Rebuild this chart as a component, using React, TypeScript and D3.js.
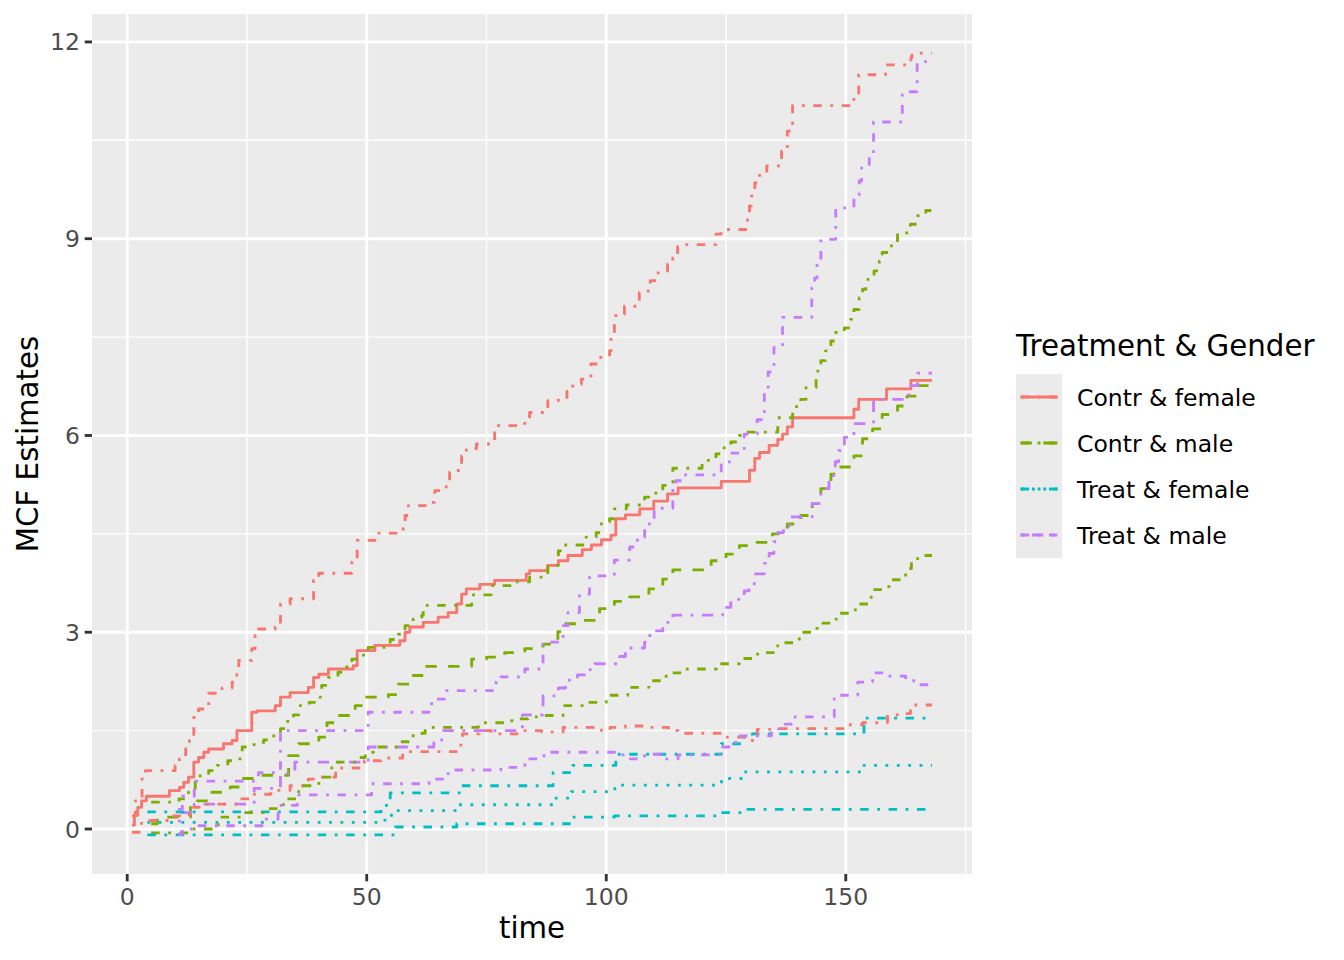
import React from 'react';
import * as d3 from 'd3';

type Step = [number, number];

const groups = ['Contr & female', 'Contr & male', 'Treat & female', 'Treat & male'];
const colours = ['#F8766D', '#7CAE00', '#00BFC4', '#C77CFF'];
const xTicks = [0, 50, 100, 150];
const yTicks = [0, 3, 6, 9, 12];
const endTime = 168;

// step functions: [time, value] where the estimate changes
const contrFemaleMcf: Step[] = [
  [1.0, 0.06], [1.5, 0.21], [2.2, 0.33], [3.0, 0.43], [4.0, 0.5], [8.8, 0.585], [10.9, 0.635],
  [11.8, 0.71], [12.8, 0.79], [13.9, 1.02], [14.9, 1.09], [16.0, 1.17], [17.0, 1.22], [20.1, 1.3],
  [21.9, 1.35], [22.9, 1.5], [26.0, 1.78], [27.1, 1.8], [30.9, 1.88], [32.0, 2.01], [34.0, 2.08],
  [37.8, 2.16], [38.9, 2.31], [40.0, 2.36], [42.0, 2.44], [47.2, 2.49], [48.0, 2.72], [51.7, 2.8],
  [56.9, 2.87], [58.0, 3.0], [59.0, 3.08], [61.8, 3.15], [64.9, 3.23], [67.0, 3.3], [68.8, 3.43],
  [69.8, 3.58], [70.8, 3.66], [73.6, 3.73], [76.7, 3.79], [83.3, 3.89], [84.0, 3.94], [87.8, 4.02],
  [90.0, 4.09], [92.0, 4.17], [95.0, 4.26], [96.9, 4.33], [99.0, 4.41], [101.0, 4.48], [102.0, 4.73],
  [104.0, 4.79], [107.0, 4.88], [109.9, 5.0], [112.8, 5.11], [115.0, 5.2], [124.0, 5.3], [129.9, 5.47],
  [131.0, 5.65], [132.0, 5.74], [134.0, 5.85], [135.8, 5.94], [136.8, 6.02], [137.8, 6.13], [138.9, 6.27],
  [151.7, 6.4], [152.7, 6.55], [158.5, 6.71], [163.6, 6.84],
];
const contrFemaleUpper: Step[] = [
  [1.0, 0.2], [1.7, 0.43], [3.1, 0.76], [3.8, 0.89], [10.0, 0.97], [10.9, 1.07], [12.2, 1.22],
  [13.0, 1.35], [13.9, 1.7], [14.9, 1.83], [17.0, 2.07], [19.8, 2.15], [21.9, 2.24], [22.9, 2.36],
  [23.3, 2.57], [26.0, 2.75], [26.7, 2.95], [27.4, 3.05], [30.9, 3.08], [32.0, 3.43], [34.0, 3.51],
  [38.9, 3.79], [40.0, 3.9], [46.9, 4.07], [48.0, 4.4], [52.0, 4.51], [57.6, 4.6], [58.0, 4.78],
  [58.7, 4.93], [62.2, 4.98], [64.2, 5.16], [66.6, 5.31], [67.3, 5.44], [69.1, 5.52], [69.8, 5.69],
  [70.8, 5.8], [72.9, 5.87], [76.7, 6.15], [83.0, 6.23], [84.0, 6.35], [87.8, 6.53], [90.0, 6.58],
  [91.8, 6.67], [93.0, 6.78], [94.8, 6.86], [96.8, 7.09], [98.5, 7.19], [100.7, 7.29], [101.0, 7.47],
  [101.7, 7.7], [102.0, 7.85], [103.8, 7.97], [106.9, 8.18], [108.0, 8.2], [109.2, 8.36], [110.5, 8.48],
  [112.8, 8.61], [113.9, 8.71], [114.9, 8.91], [122.9, 9.07], [124.0, 9.14], [129.5, 9.29], [129.9, 9.5],
  [130.3, 9.65], [131.0, 9.85], [132.0, 9.99], [133.5, 10.11], [136.6, 10.34], [137.8, 10.64],
  [138.9, 11.03], [151.7, 11.15], [152.7, 11.5], [158.3, 11.65], [163.6, 11.76], [163.8, 11.83],
];
const contrFemaleLower: Step[] = [
  [1.0, -0.05], [3.0, 0.13], [9.0, 0.2], [13.0, 0.33], [15.0, 0.38], [23.0, 0.46], [26.5, 0.53],
  [30.0, 0.59], [34.0, 0.66], [37.8, 0.76], [40.0, 0.79], [43.5, 0.93], [49.5, 1.04], [53.0, 1.08],
  [57.5, 1.18], [69.0, 1.28], [70.0, 1.45], [73.5, 1.5], [76.0, 1.45], [83.0, 1.5], [86.5, 1.48],
  [91.0, 1.55], [99.0, 1.5], [100.8, 1.55], [104.0, 1.57], [108.5, 1.55], [113.0, 1.5], [115.0, 1.46],
  [124.5, 1.4], [129.5, 1.35], [131.5, 1.52], [134.5, 1.53], [150.0, 1.59], [153.5, 1.62],
  [158.7, 1.74], [161.3, 1.76], [163.5, 1.89],
];

const contrMaleMcf: Step[] = [
  [5.0, 0.08], [6.3, 0.18], [13.2, 0.35], [14.6, 0.43], [17.7, 0.56], [21.5, 0.64], [23.6, 0.77],
  [27.4, 0.82], [33.7, 1.12], [35.8, 1.3], [40.0, 1.4], [41.7, 1.62], [44.0, 1.73], [47.6, 1.88],
  [49.7, 2.01], [54.5, 2.05], [56.6, 2.21], [59.7, 2.34], [62.2, 2.48], [71.9, 2.59], [75.0, 2.62],
  [78.8, 2.69], [83.0, 2.75], [86.8, 2.82], [89.9, 3.01], [91.0, 3.13], [95.0, 3.18], [98.6, 3.36],
  [101.7, 3.47], [104.9, 3.54], [108.9, 3.66], [111.8, 3.81], [113.9, 3.95], [121.9, 4.09],
  [125.0, 4.19], [127.8, 4.32], [131.0, 4.37], [134.7, 4.5], [136.0, 4.55], [137.8, 4.65],
  [140.6, 4.78], [143.0, 4.96], [144.8, 5.19], [146.9, 5.41], [148.0, 5.52], [151.7, 5.69],
  [153.5, 5.95], [155.6, 6.1], [157.6, 6.32], [160.8, 6.45], [162.8, 6.6], [165.0, 6.76],
];
const contrMaleUpper: Step[] = [
  [5.0, 0.41], [10.8, 0.46], [12.8, 0.56], [14.2, 0.81], [17.0, 0.89], [18.8, 0.97], [21.0, 1.04],
  [22.9, 1.07], [24.0, 1.25], [26.5, 1.32], [28.5, 1.36], [30.2, 1.42], [32.0, 1.53], [33.0, 1.64],
  [34.7, 1.74], [35.8, 1.88], [38.0, 1.93], [40.3, 2.01], [40.6, 2.19], [42.0, 2.31], [44.0, 2.39],
  [45.8, 2.47], [46.9, 2.59], [48.3, 2.65], [50.3, 2.77], [54.9, 2.89], [56.6, 2.97], [58.0, 3.1],
  [59.7, 3.2], [61.5, 3.26], [61.8, 3.41], [71.9, 3.57], [76.0, 3.71], [80.9, 3.77], [84.0, 3.84],
  [87.8, 4.02], [90.0, 4.24], [91.0, 4.33], [95.8, 4.45], [97.9, 4.52], [99.0, 4.68], [100.7, 4.73],
  [101.7, 4.88], [104.2, 4.94], [108.0, 5.06], [109.7, 5.12], [111.8, 5.24], [112.8, 5.29],
  [113.9, 5.5], [120.0, 5.62], [122.9, 5.72], [124.3, 5.81], [126.0, 5.9], [127.8, 6.0], [128.5, 6.05],
  [135.8, 6.27], [138.9, 6.44], [140.6, 6.55], [141.7, 6.73], [143.8, 6.98], [144.8, 7.14],
  [145.8, 7.29], [146.9, 7.44], [147.9, 7.57], [149.7, 7.64], [151.0, 7.77], [151.7, 7.92],
  [152.8, 8.1], [153.5, 8.23], [154.2, 8.38], [155.9, 8.51], [157.0, 8.66], [157.6, 8.79],
  [159.0, 8.89], [160.8, 9.09], [163.5, 9.22], [165.0, 9.35], [166.7, 9.43],
];
const contrMaleLower: Step[] = [
  [5.0, -0.06], [13.5, 0.0], [19.0, 0.18], [24.0, 0.25], [28.8, 0.31], [32.6, 0.46], [35.8, 0.66],
  [40.0, 0.79], [42.7, 1.02], [47.9, 1.09], [49.7, 1.17], [51.4, 1.25], [56.3, 1.33], [59.7, 1.46],
  [62.2, 1.55], [73.3, 1.62], [79.2, 1.65], [81.0, 1.68], [83.7, 1.71], [86.5, 1.73], [91.0, 1.88],
  [95.0, 1.93], [100.0, 2.04], [104.5, 2.16], [108.9, 2.26], [112.5, 2.38], [116.5, 2.44],
  [123.0, 2.52], [127.8, 2.6], [131.6, 2.69], [135.8, 2.84], [140.3, 3.0], [144.0, 3.14],
  [148.0, 3.29], [152.0, 3.43], [155.3, 3.65], [159.0, 3.8], [162.5, 3.97], [163.7, 4.09], [165.0, 4.17],
];

const treatFemaleMcf: Step[] = [
  [4.2, 0.1], [53.8, 0.21], [56.0, 0.28], [69.0, 0.37], [89.2, 0.47], [92.7, 0.57], [101.8, 0.62],
  [103.0, 0.67], [123.0, 0.72], [125.7, 0.77], [128.8, 0.87], [153.8, 0.97],
];
const treatFemaleUpper: Step[] = [
  [4.2, 0.26], [53.0, 0.36], [54.9, 0.55], [69.8, 0.66], [88.9, 0.86], [93.0, 0.97], [102.0, 1.14],
  [124.0, 1.3], [128.8, 1.4], [130.5, 1.45], [153.8, 1.69],
];
const treatFemaleLower: Step[] = [
  [4.2, -0.09], [56.0, 0.03], [68.8, 0.08], [92.7, 0.18], [101.7, 0.2], [123.6, 0.25], [129.0, 0.3],
];

const treatMaleMcf: Step[] = [
  [10.6, 0.12], [11.5, 0.25], [14.0, 0.38], [26.5, 0.62], [32.0, 0.85], [35.0, 1.02], [50.3, 1.25],
  [64.0, 1.36], [66.0, 1.5], [82.5, 1.74], [86.8, 2.03], [90.0, 2.15], [91.5, 2.27], [94.0, 2.35],
  [95.8, 2.43], [97.6, 2.52], [102.8, 2.63], [104.0, 2.76], [108.0, 2.85], [108.7, 2.95], [110.0, 3.02],
  [111.8, 3.15], [113.9, 3.26], [124.3, 3.38], [126.0, 3.5], [128.8, 3.63], [129.8, 3.7], [130.9, 3.89],
  [133.0, 4.05], [134.0, 4.2], [135.0, 4.38], [135.8, 4.52], [137.0, 4.62], [138.2, 4.76], [143.0, 4.96],
  [144.8, 5.19], [146.5, 5.39], [147.8, 5.6], [148.5, 5.77], [149.7, 5.97], [151.7, 6.18],
  [155.8, 6.55], [163.2, 6.76], [165.0, 6.95],
];
const treatMaleUpper: Step[] = [
  [10.6, 0.3], [11.5, 0.5], [14.0, 0.73], [27.4, 0.86], [32.0, 1.45], [33.0, 1.5], [50.3, 1.78],
  [63.0, 1.91], [64.5, 1.98], [66.6, 2.11], [77.0, 2.24], [78.0, 2.32], [83.0, 2.44], [86.8, 2.85],
  [91.0, 3.1], [92.0, 3.3], [94.4, 3.58], [96.5, 3.86], [101.7, 4.1], [104.9, 4.3], [106.5, 4.45],
  [108.0, 4.55], [109.0, 4.69], [110.0, 4.89], [113.9, 5.2], [114.5, 5.31], [116.0, 5.4], [124.0, 5.55],
  [125.7, 5.73], [128.8, 6.02], [131.5, 6.24], [133.0, 6.7], [133.8, 6.97], [135.0, 7.34], [136.8, 7.8],
  [142.9, 8.25], [143.5, 8.4], [144.0, 8.63], [144.8, 8.99], [147.9, 9.47], [151.7, 9.67], [152.8, 9.88],
  [153.3, 10.1], [154.9, 10.26], [155.8, 10.78], [161.8, 11.24], [164.9, 11.7],
];
const treatMaleLower: Step[] = [
  [10.6, -0.08], [11.5, 0.0], [14.0, 0.05], [29.0, 0.15], [31.5, 0.36], [35.5, 0.52], [51.0, 0.69],
  [63.0, 0.76], [67.0, 0.9], [78.0, 0.94], [83.0, 1.07], [87.0, 1.17], [102.0, 1.13], [105.0, 1.07],
  [108.0, 1.14], [111.5, 1.07], [115.0, 1.13], [124.3, 1.25], [127.0, 1.42], [134.5, 1.47],
  [136.0, 1.6], [139.0, 1.71], [147.6, 2.04], [152.5, 2.24], [155.6, 2.38], [158.0, 2.33],
  [162.5, 2.26], [164.5, 2.2],
];

const mcfSeries = [contrFemaleMcf, contrMaleMcf, treatFemaleMcf, treatMaleMcf];
const upperSeries = [contrFemaleUpper, contrMaleUpper, treatFemaleUpper, treatMaleUpper];
const lowerSeries = [contrFemaleLower, contrMaleLower, treatFemaleLower, treatMaleLower];

// ggplot line types in units of the line width
const lw = 2.84;
const groupDash = ['', `${4 * lw} ${4 * lw}`, `${lw} ${3 * lw}`, `${lw} ${3 * lw} ${4 * lw} ${3 * lw}`];
const ciDash = `${3 * lw} ${3 * lw} ${lw} ${3 * lw}`;

const W = 1344;
const H = 960;
const panel = { left: 92, right: 972, top: 14, bottom: 874 };
const font = 'DejaVu Sans, Liberation Sans, sans-serif';

const withEnd = (s: Step[]): Step[] => [...s, [endTime, s[s.length - 1][1]]];

const App: React.FC = () => {
  const all = [...mcfSeries, ...upperSeries, ...lowerSeries].flatMap(withEnd);
  const [x0, x1] = d3.extent(all, d => d[0]) as [number, number];
  const [y0, y1] = d3.extent(all, d => d[1]) as [number, number];
  const xPad = (x1 - x0) * 0.05;
  const yPad = (y1 - y0) * 0.05;

  const x = d3.scaleLinear().domain([x0 - xPad, x1 + xPad]).range([panel.left, panel.right]);
  const y = d3.scaleLinear().domain([y0 - yPad, y1 + yPad]).range([panel.bottom, panel.top]);

  const line = d3.line<Step>()
    .x(d => x(d[0]))
    .y(d => y(d[1]))
    .curve(d3.curveStepAfter);

  const [dx0, dx1] = x.domain();
  const [dy0, dy1] = y.domain();
  const xMinor = [-25, 25, 75, 125, 175].filter(v => v >= dx0 && v <= dx1);
  const yMinor = [-1.5, 1.5, 4.5, 7.5, 10.5, 13.5].filter(v => v >= dy0 && v <= dy1);

  const legendX = 1016;
  const keyTop = 374;
  const keyH = 46;
  const keyW = 46;

  return (
    <svg width={W} height={H} style={{ position: 'absolute', left: 0, top: 0, background: '#fff' }}>
      <rect x={panel.left} y={panel.top} width={panel.right - panel.left} height={panel.bottom - panel.top} fill="#EBEBEB" />
      <g stroke="#fff" fill="none">
        {xMinor.map(v => <line key={`xm${v}`} x1={x(v)} x2={x(v)} y1={panel.top} y2={panel.bottom} strokeWidth={lw / 2} />)}
        {yMinor.map(v => <line key={`ym${v}`} y1={y(v)} y2={y(v)} x1={panel.left} x2={panel.right} strokeWidth={lw / 2} />)}
        {xTicks.map(v => <line key={`xM${v}`} x1={x(v)} x2={x(v)} y1={panel.top} y2={panel.bottom} strokeWidth={lw} />)}
        {yTicks.map(v => <line key={`yM${v}`} y1={y(v)} y2={y(v)} x1={panel.left} x2={panel.right} strokeWidth={lw} />)}
      </g>

      <g fill="none" strokeWidth={lw} strokeLinecap="butt" strokeLinejoin="round">
        {mcfSeries.map((s, i) => (
          <path key={`m${i}`} d={line(withEnd(s)) || ''} stroke={colours[i]} strokeDasharray={groupDash[i] || undefined} />
        ))}
        {upperSeries.map((s, i) => (
          <path key={`u${i}`} d={line(withEnd(s)) || ''} stroke={colours[i]} strokeDasharray={ciDash} />
        ))}
        {lowerSeries.map((s, i) => (
          <path key={`l${i}`} d={line(withEnd(s)) || ''} stroke={colours[i]} strokeDasharray={ciDash} />
        ))}
      </g>

      <g stroke="#333333" strokeWidth={lw}>
        {xTicks.map(v => <line key={`xt${v}`} x1={x(v)} x2={x(v)} y1={panel.bottom} y2={panel.bottom + 7.3} />)}
        {yTicks.map(v => <line key={`yt${v}`} y1={y(v)} y2={y(v)} x1={panel.left - 7.3} x2={panel.left} />)}
      </g>
      <g fontFamily={font} fontSize={23.5} fill="#4D4D4D">
        {xTicks.map(v => (
          <text key={`xl${v}`} x={x(v)} y={905} textAnchor="middle">{v}</text>
        ))}
        {yTicks.map(v => (
          <text key={`yl${v}`} x={80} y={y(v) + 8.5} textAnchor="end">{v}</text>
        ))}
      </g>
      <text x={(panel.left + panel.right) / 2} y={938} textAnchor="middle" fontFamily={font} fontSize={29.3} fill="#000">time</text>
      <text transform={`translate(38,${(panel.top + panel.bottom) / 2}) rotate(-90)`} textAnchor="middle" fontFamily={font} fontSize={29.3} fill="#000">MCF Estimates</text>

      <text x={legendX} y={356} fontFamily={font} fontSize={29.3} fill="#000">Treatment &amp; Gender</text>
      {groups.map((g, i) => {
        const cy = keyTop + keyH * i + keyH / 2;
        return (
          <g key={g}>
            <rect x={legendX} y={keyTop + keyH * i} width={keyW} height={keyH} fill="#EBEBEB" />
            <line x1={legendX + keyW * 0.1} x2={legendX + keyW * 0.9} y1={cy} y2={cy} stroke={colours[i]} strokeWidth={lw} strokeDasharray={groupDash[i] || undefined} />
            <line x1={legendX + keyW * 0.1} x2={legendX + keyW * 0.9} y1={cy} y2={cy} stroke={colours[i]} strokeWidth={lw} strokeDasharray={ciDash} />
            <text x={1077} y={cy + 8.5} fontFamily={font} fontSize={23.5} fill="#000">{g}</text>
          </g>
        );
      })}
    </svg>
  );
};

export default App;
